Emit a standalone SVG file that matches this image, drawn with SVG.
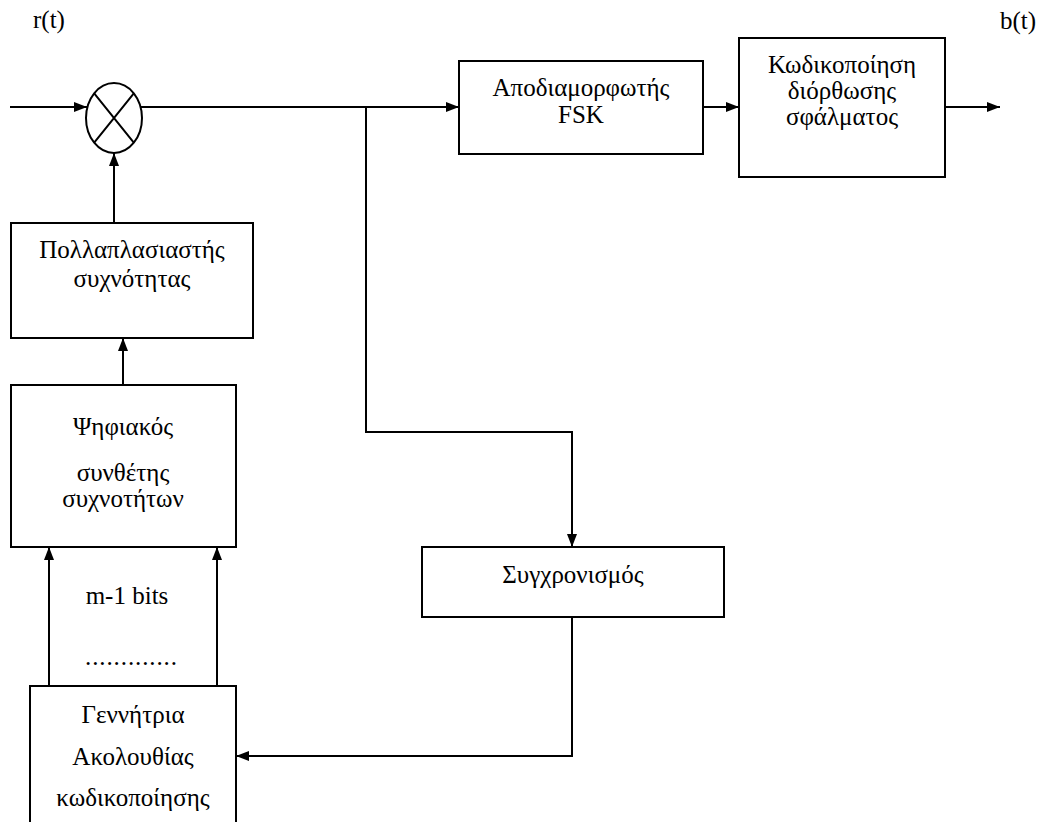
<svg xmlns="http://www.w3.org/2000/svg" width="1040" height="822" viewBox="0 0 1040 822">
  <style>
    .box { fill: #ffffff; stroke: #000000; stroke-width: 2; }
    .wire { fill: none; stroke: #000000; stroke-width: 2; }
    .lbl { font-family: "Liberation Serif", "Times New Roman", serif; font-size: 25px; fill: #000000; text-anchor: middle; }
    .sig { font-family: "Liberation Serif", "Times New Roman", serif; font-size: 25px; fill: #000000; }
  </style>
  <defs>
    <marker id="arrow" markerUnits="userSpaceOnUse" markerWidth="14" markerHeight="10" refX="13" refY="5" orient="auto">
      <path d="M0,0 L13,5 L0,10 z" fill="#000000"/>
    </marker>
  </defs>
  <rect width="1040" height="822" fill="#ffffff"/>

  <!-- signal names -->
  <text class="sig" x="33" y="28">r(t)</text>
  <text class="sig" x="1000" y="29">b(t)</text>

  <!-- connectors -->
  <g id="connectors">
    <path class="wire" d="M10,107 H87" marker-end="url(#arrow)"/>
    <path class="wire" d="M141,107 H459" marker-end="url(#arrow)"/>
    <path class="wire" d="M703,107 H739" marker-end="url(#arrow)"/>
    <path class="wire" d="M945,107 H1000" marker-end="url(#arrow)"/>
    <path class="wire" d="M114,223 V153" marker-end="url(#arrow)"/>
    <path class="wire" d="M123,385 V338" marker-end="url(#arrow)"/>
    <path class="wire" d="M49,686 V547" marker-end="url(#arrow)"/>
    <path class="wire" d="M217,686 V547" marker-end="url(#arrow)"/>
    <path class="wire" d="M366,107 V432 H572 V547" marker-end="url(#arrow)"/>
    <path class="wire" d="M572,617 V756 H236" marker-end="url(#arrow)"/>
    <text class="lbl" x="127" y="604">m-1 bits</text>
    <text class="lbl" x="131" y="665" textLength="92" lengthAdjust="spacing">.............</text>
  </g>

  <!-- mixer -->
  <g id="mixer">
    <ellipse class="box" cx="114" cy="118" rx="28" ry="35"/>
    <path class="wire" d="M94.2,93.3 L133.8,142.7 M133.8,93.3 L94.2,142.7"/>
  </g>

  <g id="fsk-demod">
    <rect class="box" x="459" y="61" width="244" height="93"/>
    <text class="lbl" x="581" y="96">Αποδιαμορφωτής</text>
    <text class="lbl" x="581" y="123">FSK</text>
  </g>

  <g id="fec">
    <rect class="box" x="739" y="38" width="206" height="139"/>
    <text class="lbl" x="842" y="73">Κωδικοποίηση</text>
    <text class="lbl" x="842" y="99">διόρθωσης</text>
    <text class="lbl" x="842" y="125">σφάλματος</text>
  </g>

  <g id="freq-mult">
    <rect class="box" x="11" y="223" width="242" height="115"/>
    <text class="lbl" x="132" y="258">Πολλαπλασιαστής</text>
    <text class="lbl" x="132" y="287">συχνότητας</text>
  </g>

  <g id="synth">
    <rect class="box" x="11" y="385" width="225" height="162"/>
    <text class="lbl" x="123" y="435">Ψηφιακός</text>
    <text class="lbl" x="123" y="481">συνθέτης</text>
    <text class="lbl" x="123" y="507">συχνοτήτων</text>
  </g>

  <g id="sync">
    <rect class="box" x="422" y="547" width="302" height="70"/>
    <text class="lbl" x="573" y="583">Συγχρονισμός</text>
  </g>

  <g id="code-gen">
    <rect class="box" x="30" y="686" width="206" height="150"/>
    <text class="lbl" x="133" y="723">Γεννήτρια</text>
    <text class="lbl" x="133" y="765">Ακολουθίας</text>
    <text class="lbl" x="133" y="806">κωδικοποίησης</text>
  </g>
</svg>
